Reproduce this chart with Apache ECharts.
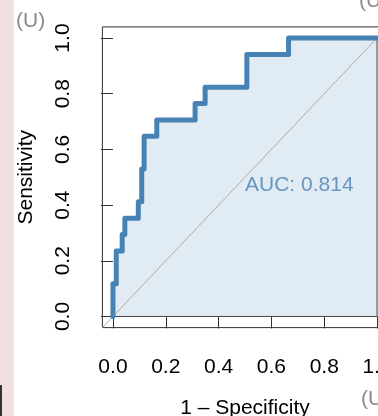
<!DOCTYPE html>
<html>
<head>
    <meta charset="utf-8">
    <title>ROC curve</title>
    <script src="https://cdn.jsdelivr.net/npm/echarts@6/dist/echarts.min.js"></script>
    <style>
        html, body { margin: 0; padding: 0; background: #fff; }
    </style>
</head>
<body>
    <div id="main" style="width: 378px; height: 416px;"></div>

<script type="text/javascript">
    // ROC curve vertices (1 - specificity, sensitivity)
    var fpr = [0, 0, 0.0125, 0.0125, 0.035, 0.035, 0.045, 0.045, 0.096, 0.096, 0.109, 0.109, 0.118, 0.118,
               0.166, 0.166, 0.311, 0.311, 0.349, 0.349, 0.507, 0.507, 0.665, 0.665, 1];
    var tpr = [0, 2/17, 2/17, 4/17, 4/17, 5/17, 5/17, 6/17, 6/17, 7/17, 7/17, 9/17, 9/17, 11/17,
               11/17, 12/17, 12/17, 13/17, 13/17, 14/17, 14/17, 16/17, 16/17, 1, 1];
    var ticks = [0, 0.2, 0.4, 0.6, 0.8, 1];
    var aucText = 'AUC: 0.814';

    var curve = [];
    for (var i = 0; i < fpr.length; i++) {
        curve.push([fpr[i], tpr[i]]);
    }

    var font = 'Liberation Sans, Arial, Helvetica, sans-serif';

    var myChart = echarts.init(document.getElementById('main'), null, {renderer: 'canvas'});

    var axisCommon = {
        type: 'value',
        min: -0.04,
        max: 1.04,
        axisLine: { show: false },
        splitLine: { show: false },
        axisTick: {
            show: true,
            length: 12,
            customValues: ticks,
            lineStyle: { color: '#333', width: 1 }
        },
        axisLabel: {
            customValues: ticks,
            formatter: function (v) { return v.toFixed(1); },
            color: '#000',
            fontSize: 21,
            fontFamily: font,
            margin: 29
        },
        nameLocation: 'middle',
        nameTextStyle: { color: '#000', fontSize: 21, fontFamily: font }
    };

    var option = {
        animation: false,
        backgroundColor: '#fff',
        grid: {
            left: 102.4,
            right: -9.6,
            top: 26.9,
            bottom: 88.4,
            containLabel: false,
            outerBoundsMode: 'none',
            show: true,
            borderColor: '#333',
            borderWidth: 1,
            backgroundColor: 'transparent'
        },
        xAxis: echarts.util.merge({
            name: '1 \u2013 Specificity',
            nameGap: 70
        }, axisCommon),
        yAxis: echarts.util.merge({
            name: 'Sensitivity',
            nameGap: 66,
            nameRotate: 90,
            axisLabel: { rotate: 90 }
        }, axisCommon),
        graphic: [
            { type: 'rect', left: 0, top: 0, shape: { width: 14, height: 416 }, style: { fill: '#f2dfdf' }, z: -10 },
            { type: 'rect', left: 0, top: 385, shape: { width: 2, height: 31 }, style: { fill: '#333' } },
            { type: 'text', left: 16, top: 11, style: { text: '(U)', fill: '#8a8a8a', font: '21px ' + font } },
            { type: 'text', left: 359, top: -9, style: { text: '(U)', fill: '#8a8a8a', font: '21px ' + font } },
            { type: 'text', left: 361, top: 389, style: { text: '(U)', fill: '#8a8a8a', font: '21px ' + font } }
        ],
        series: [
            {
                // shaded area under the curve
                type: 'line',
                data: curve,
                symbol: 'none',
                lineStyle: { width: 0 },
                areaStyle: { color: '#e1ebf4', opacity: 1 },
                z: 1
            },
            {
                // polygon border along x = 1 and y = 0
                type: 'line',
                data: [[1, 1], [1, 0], [0, 0]],
                symbol: 'none',
                lineStyle: { color: '#444', width: 1 },
                z: 2
            },
            {
                // chance diagonal
                type: 'line',
                data: [[-0.04, -0.04], [1.04, 1.04]],
                symbol: 'none',
                lineStyle: { color: '#aaa', width: 1 },
                z: 3
            },
            {
                type: 'line',
                data: curve,
                symbol: 'none',
                lineStyle: { color: '#4682b4', width: 5, cap: 'round', join: 'round' },
                z: 4
            },
            {
                type: 'scatter',
                data: [[0.5, 0.5]],
                symbolSize: 0,
                label: {
                    show: true,
                    position: [0, -3],
                    align: 'left',
                    verticalAlign: 'top',
                    formatter: aucText,
                    color: '#4682b4',
                    fontSize: 21,
                    fontFamily: font
                },
                z: 5
            }
        ]
    };

    myChart.setOption(option);
</script>
</body>
</html>
